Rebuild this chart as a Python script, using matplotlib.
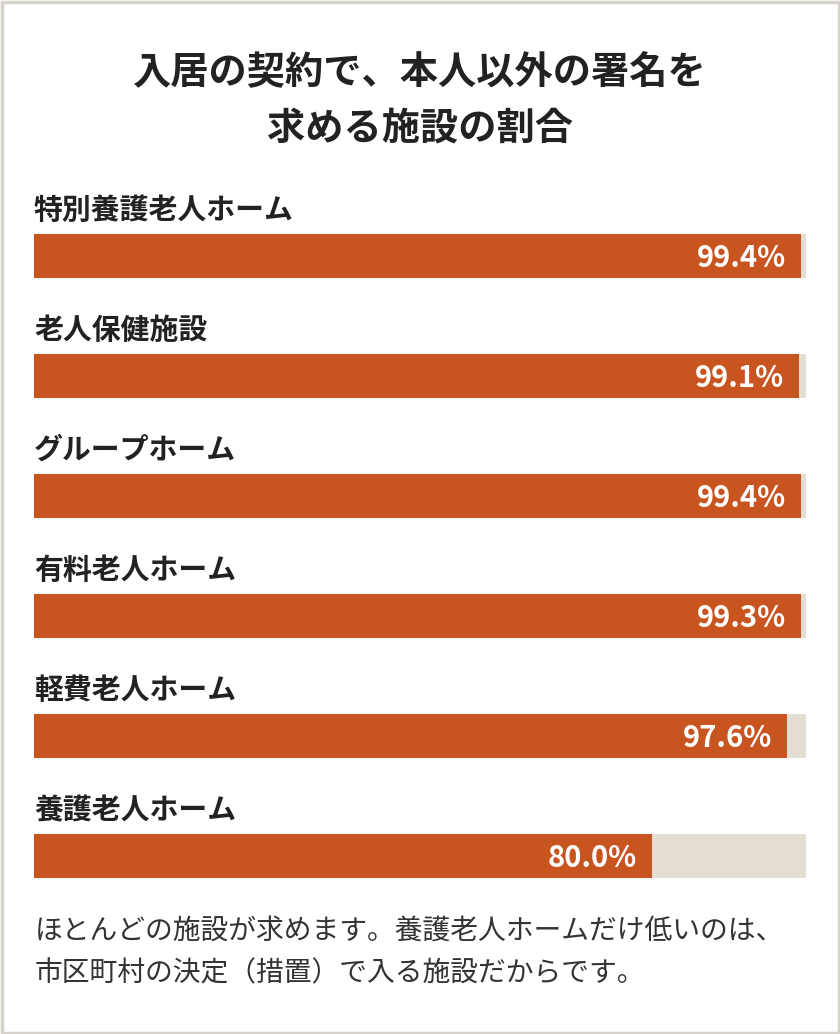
import matplotlib
matplotlib.use("Agg")
import matplotlib.pyplot as plt
from matplotlib.patches import Rectangle

plt.rcParams['font.family'] = ['Noto Sans CJK JP', 'DejaVu Sans']

title_lines = ["入居の契約で、本人以外の署名を", "求める施設の割合"]
categories = ["特別養護老人ホーム", "老人保健施設", "グループホーム",
              "有料老人ホーム", "軽費老人ホーム", "養護老人ホーム"]
values = [99.4, 99.1, 99.4, 99.3, 97.6, 80.0]
value_labels = ["99.4%", "99.1%", "99.4%", "99.3%", "97.6%", "80.0%"]
note_lines = ["ほとんどの施設が求めます。養護老人ホームだけ低いのは、",
              "市区町村の決定（措置）で入る施設だからです。"]

W, H = 840, 1034
fig = plt.figure(figsize=(W / 100, H / 100), dpi=100)
fig.patch.set_facecolor("white")

BAR = "#C8541F"
TRACK = "#E3DDD3"
DARK = "#222222"

# frame
fig.patches.append(Rectangle((1.5 / W, 1.5 / H), 1 - 3 / W, 1 - 3 / H,
                             transform=fig.transFigure, fill=False,
                             edgecolor="#D6D2CC", linewidth=2.5))

# title
fig.text(0.5, 1 - 73 / H, title_lines[0], ha="center", va="center",
         fontsize=27.5, fontweight="bold", color=DARK)
fig.text(0.5, 1 - 128 / H, title_lines[1], ha="center", va="center",
         fontsize=27.5, fontweight="bold", color=DARK)

# bar axes: x 34..806 px, y 190..878 px
left, right = 34, 806
top, bottom = 190, 878
ax = fig.add_axes([left / W, 1 - bottom / H, (right - left) / W, (bottom - top) / H])
ax.set_xlim(0, 100)
ax.set_ylim((bottom - 256) / 120, (top - 256) / 120)
ax.axis("off")

n = len(categories)
ypos = list(range(n))
bh = 44 / 120
ax.barh(ypos, [100] * n, height=bh, color=TRACK, linewidth=0)
ax.barh(ypos, values, height=bh, color=BAR, linewidth=0)

px = 100 / (right - left)
for i, (cat, v, lab) in enumerate(zip(categories, values, value_labels)):
    ax.text(0, i - 46 / 120, cat, ha="left", va="center", fontsize=20.8,
            fontweight="bold", color=DARK)
    ax.text(v - 15 * px, i + 2 / 120, lab, ha="right", va="center", fontsize=21,
            fontweight="bold", color="white")

# note
for j, line in enumerate(note_lines):
    fig.text(35 / W, 1 - (932 + 41 * j) / H, line, ha="left", va="center",
             fontsize=20, color="#333333")

fig.savefig("out.png", dpi=100, facecolor="white")
